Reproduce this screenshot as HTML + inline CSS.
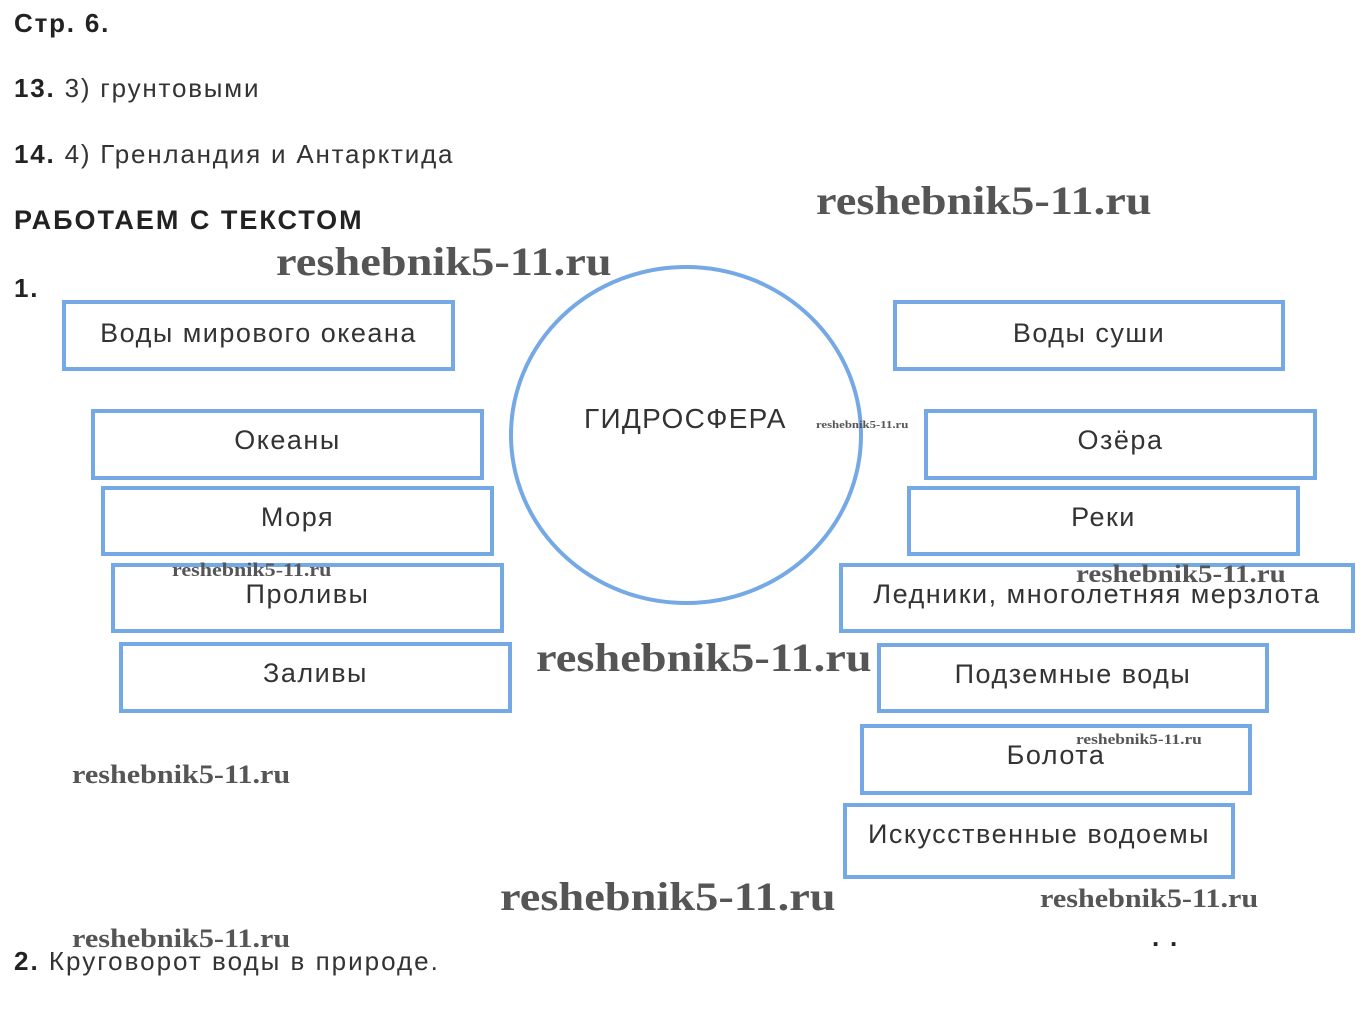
<!DOCTYPE html>
<html><head><meta charset="utf-8"><style>
body{margin:0;width:1368px;height:1033px;background:#fff;position:relative;overflow:hidden;font-family:"Liberation Sans",sans-serif;color:#333}
.t{position:absolute;font-size:26px;white-space:nowrap;letter-spacing:1.8px}
.b{font-weight:bold;color:#222}
.box{position:absolute;box-sizing:border-box;border:4px solid #75a9e6;display:flex;justify-content:center;align-items:flex-start;padding-top:12px;font-size:27px;color:#333;white-space:nowrap;letter-spacing:1.5px}
.wm{position:absolute;font-family:"Liberation Serif",serif;font-weight:bold;color:#555;white-space:nowrap;transform:scaleX(1.16);transform-origin:left top}
</style></head><body>
<div class="t b" style="left:14px;top:8px">Стр. 6.</div>
<div class="t" style="left:14px;top:73px"><span class="b">13.</span> 3) грунтовыми</div>
<div class="t" style="left:14px;top:139px"><span class="b">14.</span> 4) Гренландия и Антарктида</div>
<div class="t b" style="left:14px;top:205px;font-size:27px;letter-spacing:2px">РАБОТАЕМ С ТЕКСТОМ</div>
<div class="t b" style="left:14px;top:273px">1.</div>

<svg style="position:absolute;left:0;top:0" width="1368" height="1033"><ellipse cx="686" cy="435" rx="175" ry="168" fill="none" stroke="#75a9e6" stroke-width="4"/></svg>
<div class="t" style="left:584px;top:403px;font-size:28px;letter-spacing:1.3px">ГИДРОСФЕРА</div>

<div class="box" style="left:62px;top:300px;width:393px;height:71px;padding-top:14px">Воды мирового океана</div>
<div class="box" style="left:91px;top:409px;width:393px;height:71px">Океаны</div>
<div class="box" style="left:101px;top:486px;width:393px;height:70px">Моря</div>
<div class="box" style="left:111px;top:563px;width:393px;height:70px">Проливы</div>
<div class="box" style="left:119px;top:642px;width:393px;height:71px">Заливы</div>

<div class="box" style="left:893px;top:300px;width:392px;height:71px;padding-top:14px">Воды суши</div>
<div class="box" style="left:924px;top:409px;width:393px;height:71px">Озёра</div>
<div class="box" style="left:907px;top:486px;width:393px;height:70px">Реки</div>
<div class="box" style="left:839px;top:563px;width:516px;height:70px">Ледники, многолетняя мерзлота</div>
<div class="box" style="left:877px;top:643px;width:392px;height:70px">Подземные воды</div>
<div class="box" style="left:860px;top:724px;width:392px;height:71px">Болота</div>
<div class="box" style="left:843px;top:803px;width:392px;height:76px">Искусственные водоемы</div>

<div class="t" style="left:14px;top:946px;letter-spacing:2px"><span class="b">2.</span> Круговорот воды в природе.</div>
<div class="t b" style="left:1152px;top:922px">. .</div>

<div class="wm" style="left:816px;top:177px;font-size:40px">reshebnik5-11.ru</div>
<div class="wm" style="left:276px;top:238px;font-size:40px">reshebnik5-11.ru</div>
<div class="wm" style="left:816px;top:419px;font-size:11px">reshebnik5-11.ru</div>
<div class="wm" style="left:172px;top:560px;font-size:19px">reshebnik5-11.ru</div>
<div class="wm" style="left:1076px;top:561px;font-size:25px">reshebnik5-11.ru</div>
<div class="wm" style="left:536px;top:634px;font-size:40px">reshebnik5-11.ru</div>
<div class="wm" style="left:72px;top:760px;font-size:26px">reshebnik5-11.ru</div>
<div class="wm" style="left:1076px;top:732px;font-size:15px">reshebnik5-11.ru</div>
<div class="wm" style="left:500px;top:873px;font-size:40px">reshebnik5-11.ru</div>
<div class="wm" style="left:1040px;top:884px;font-size:26px">reshebnik5-11.ru</div>
<div class="wm" style="left:72px;top:924px;font-size:26px">reshebnik5-11.ru</div>
</body></html>
